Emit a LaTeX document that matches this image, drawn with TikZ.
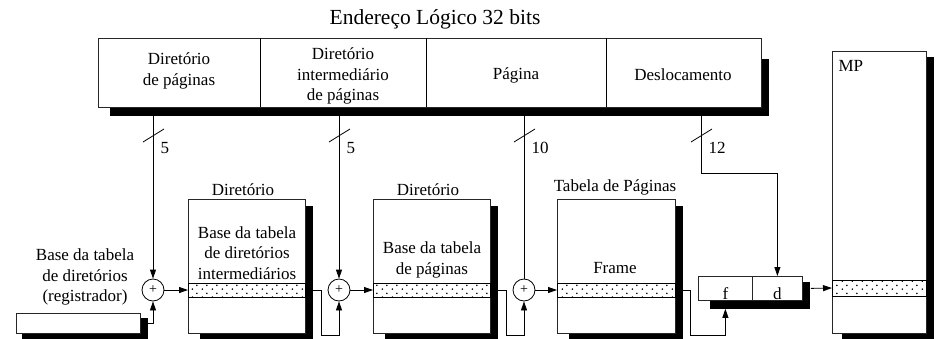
\documentclass[tikz,border=0pt]{standalone}
\usepackage{fontspec}
\setmainfont{Liberation Serif}
\usetikzlibrary{arrows.meta,calc,patterns,backgrounds}

% dotted fill of the selected entry
\pgfdeclarepatternformonly{bandots}{\pgfpointorigin}{\pgfpoint{10pt}{8pt}}{\pgfpoint{10pt}{8pt}}{%
  \pgfpathcircle{\pgfpoint{2.5pt}{2pt}}{0.95pt}%
  \pgfpathcircle{\pgfpoint{7.5pt}{6pt}}{0.95pt}%
  \pgfusepath{fill}}

% black shadow under a box: corners, left inset, top inset
\newcommand{\dropshadow}[4]{%
  \begin{scope}[on background layer]
    \clip (0,0) rectangle (940,338);
    \fill ($(#1)+(#3,#4)$) rectangle ($(#2)+(7,8)$);
  \end{scope}}

% slash on a bus line with its width
\newcommand{\busmark}[2]{%
  \draw[wire] ($(#1)+(-10,27)$) -- ($(#1)+(11,14)$);
  \node[anchor=west] at ($(#1)+(4,33)$) {#2};}

\begin{document}
\begin{tikzpicture}[x=1pt,y=-1pt,
    every node/.style={font=\fontsize{17}{20.5}\selectfont},
    box/.style={draw=black!85,line width=0.8pt,fill=white,inner sep=0pt,anchor=north west},
    tablebox/.style={box,minimum width=117pt,minimum height=134pt},
    band/.style={draw=black,line width=1pt,pattern=bandots,pattern color=black,
      minimum height=14pt,inner sep=0pt,anchor=west},
    adder/.style={circle,draw,line width=0.8pt,minimum size=22pt,inner sep=0pt,
      font=\fontsize{14}{14}\selectfont},
    wire/.style={line width=0.8pt},
    link/.style={wire,-{Triangle[length=9pt,width=6pt]}}]
  \useasboundingbox (0,0) rectangle (940,338);

  % logical address
  \node (title) at (435,19) {\fontsize{21.5}{24}\selectfont Endereço Lógico 32 bits};
  \node[box,minimum width=663pt,minimum height=69pt] (addr) at (98,38) {};
  \dropshadow{addr.north west}{addr.south east}{12}{21}
  \draw[wire] (260,38) -- (260,107);
  \draw[wire] (426,38) -- (426,107);
  \draw[wire] (606,38) -- (606,107);
  \node[align=center] (fdir) at (179,71) {Diretório\\de páginas};
  \node[align=center] (fint) at (343,76) {Diretório\\intermediário\\de páginas};
  \node (fpag) at (516,75) {Página};
  \node (fdes) at (683,75) {Deslocamento};

  \coordinate (t1) at (153,115);
  \coordinate (t2) at (339,115);
  \coordinate (t3) at (524,115);
  \coordinate (t4) at (701,115);
  \coordinate (t4b) at (701,173);

  % register
  \node[align=center] (reglabel) at (85,277) {Base da tabela\\de diretórios\\(registrador)};
  \node[box,minimum width=124pt,minimum height=20pt] (reg) at (16,313) {};
  \dropshadow{reg.north west}{reg.south east}{6}{5}

  % directory
  \node[tablebox] (dir1) at (188,199) {};
  \dropshadow{dir1.north west}{dir1.south east}{12}{7}
  \node[anchor=south] at (243,199) {Diretório};
  \node[align=center] at (247,253) {Base da tabela\\de diretórios\\intermediários};
  \node[band,minimum width=117pt] (band1) at (188,290) {};

  % intermediate directory
  \node[tablebox] (dir2) at (373,199) {};
  \dropshadow{dir2.north west}{dir2.south east}{12}{7}
  \node[anchor=south] at (428,199) {Diretório};
  \node[align=center] at (432,260) {Base da tabela\\de páginas};
  \node[band,minimum width=117pt] (band2) at (373,290) {};

  % page table
  \node[tablebox,minimum width=118pt] (dir3) at (557,199) {};
  \dropshadow{dir3.north west}{dir3.south east}{12}{7}
  \node[anchor=south] at (615,199) {Tabela de Páginas};
  \node at (615,268) {Frame};
  \node[band,minimum width=118pt] (band3) at (557,290) {};

  % physical address
  \node[box,minimum width=54pt,minimum height=24pt] (fbox) at (698,276) {};
  \node[box,minimum width=50pt,minimum height=24pt] (dbox) at (752,276) {};
  \dropshadow{fbox.north west}{dbox.south east}{12}{6}
  \node[anchor=base,yshift=1pt] at (fbox.south) {f};
  \node[anchor=base,yshift=1pt] at (dbox.south) {d};

  % main memory
  \node[box,minimum width=94pt,minimum height=282pt] (mp) at (832,51) {};
  \dropshadow{mp.north west}{mp.south east}{10}{6}
  \node[anchor=north west] at ([shift={(3,6)}]mp.north west) {MP};
  \node[band,minimum width=94pt,minimum height=16pt] (mpband) at (832,288) {};

  % adders
  \node[adder] (add1) at (153,290) {+};
  \node[adder] (add2) at (339,290) {+};
  \node[adder] (add3) at (524,290) {+};

  % connections
  \draw[link] (t1) -- (add1);
  \draw[link] (t2) -- (add2);
  \draw[wire] (t3) -- (add3);
  \draw[link] (t4) -- (t4b) -| (dbox);
  \busmark{t1}{5}
  \busmark{t2}{5}
  \busmark{t3}{10}
  \busmark{t4}{12}

  \draw[link] ([xshift=7pt]reg.east) -| (add1);
  \draw[link] (add1) -- (band1.west);
  \draw[link] ([xshift=7pt]band1.east) -- ++(8,0) -- ++(0,45) -| (add2);
  \draw[link] (add2) -- (band2.west);
  \draw[link] ([xshift=7pt]band2.east) -- ++(8,0) -- ++(0,45) -| (add3);
  \draw[link] (add3) -- (band3.west);
  \draw[link] ([xshift=7pt]band3.east) -- ++(7,0) -- ++(0,45) -| ([yshift=-8pt]fbox.south);
  \draw[link] ([xshift=8pt]dbox.east) -- (mpband.west);
\end{tikzpicture}
\end{document}
